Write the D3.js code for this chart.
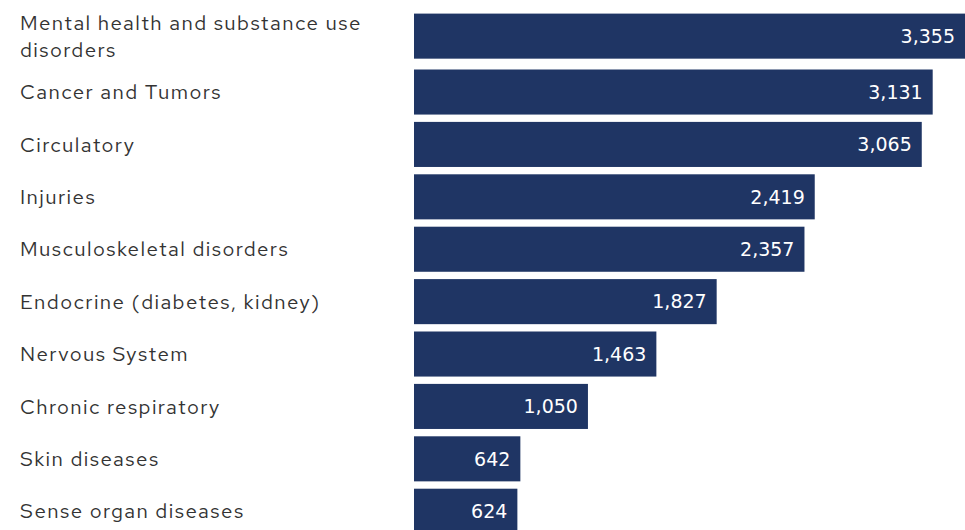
<!DOCTYPE html>
<html>
<head>
<meta charset="utf-8">
<script src="https://cdn.jsdelivr.net/npm/d3@7"></script>
<style>
  html, body { margin: 0; padding: 0; background: #ffffff; }
  svg { display: block; }
</style>
</head>
<body>
<svg id="chart" width="965" height="530"></svg>
<script>
const categories = [
  "Mental health and substance use disorders",
  "Cancer and Tumors",
  "Circulatory",
  "Injuries",
  "Musculoskeletal disorders",
  "Endocrine (diabetes, kidney)",
  "Nervous System",
  "Chronic respiratory",
  "Skin diseases",
  "Sense organ diseases"
];
const values = [3355, 3131, 3065, 2419, 2357, 1827, 1463, 1050, 642, 624];

const W = 965, H = 530;
const barLeft = 414, barRightMax = 969.8;
const labelX = 20;
const labelMaxWidth = 375;
const barColor = "#1f3564";

const svg = d3.select("#chart");

const x = d3.scaleLinear().domain([0, d3.max(values)]).range([barLeft, barRightMax]);
const step = 52.4, pad = 0.14;
const y = d3.scaleBand().domain(categories)
  .range([17.1, 17.1 + step * (categories.length - pad)])
  .paddingInner(pad).paddingOuter(0).align(0);

const data = categories.map((c, i) => ({ cat: c, value: values[i] }));
const fmt = d3.format(",");

// labels with wrapping
const labelG = svg.append("g");
const lineH = 27;
data.forEach(d => {
  const t = labelG.append("text")
    .attr("x", labelX)
    .attr("font-family", "'Red Hat Text', 'Open Sans', sans-serif")
    .attr("font-size", 20.5)
    .attr("letter-spacing", 1.4)
    .attr("fill", "#333333");
  const words = d.cat.split(" ");
  let lines = [], cur = [];
  const probe = t.append("tspan");
  words.forEach(w => {
    cur.push(w);
    probe.text(cur.join(" "));
    if (probe.node().getComputedTextLength() > labelMaxWidth && cur.length > 1) {
      cur.pop();
      lines.push(cur.join(" "));
      cur = [w];
    }
  });
  lines.push(cur.join(" "));
  probe.remove();
  d.lines = lines;
  d.t = t;
});

// bar y position with extra shift for multi-line labels
function barY(d) { return y(d.cat) - (d.lines.length > 1 ? 3.5 : 0); }

data.forEach(d => {
  const cy = barY(d) + y.bandwidth() / 2;
  const n = d.lines.length;
  d.lines.forEach((ln, k) => {
    d.t.append("tspan")
      .attr("x", labelX)
      .attr("y", cy + (k - (n - 1) / 2) * lineH)
      .attr("dy", "0.35em")
      .text(ln);
  });
});

svg.append("g").selectAll("rect").data(data).join("rect")
  .attr("x", x(0))
  .attr("y", d => barY(d))
  .attr("width", d => x(d.value) - x(0))
  .attr("height", y.bandwidth())
  .attr("fill", barColor);

svg.append("g").selectAll("text").data(data).join("text")
  .attr("x", d => Math.min(x(d.value), W) - 10)
  .attr("y", d => barY(d) + y.bandwidth() / 2)
  .attr("dy", "0.36em")
  .attr("text-anchor", "end")
  .attr("font-family", "'DejaVu Sans', sans-serif")
  .attr("font-size", 19)
  .attr("fill", "#ffffff")
  .text(d => fmt(d.value));
</script>
</body>
</html>
